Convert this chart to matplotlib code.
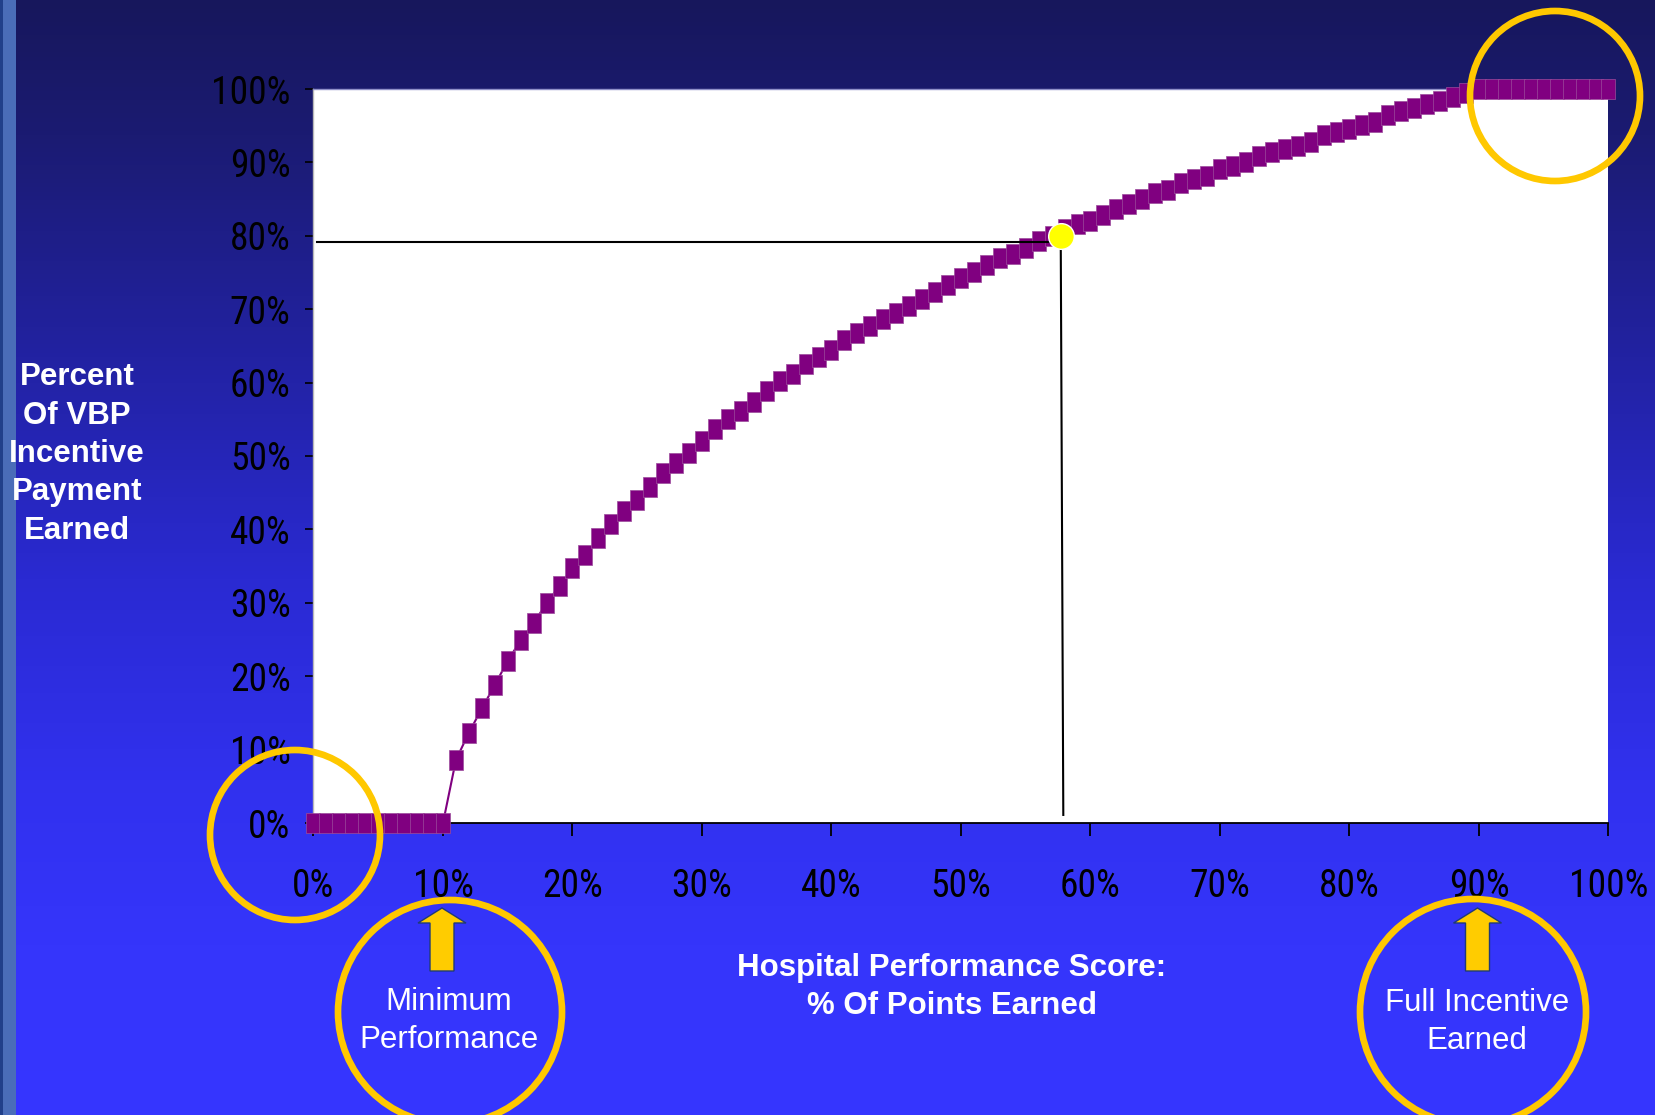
import matplotlib
matplotlib.use("Agg")
import matplotlib.pyplot as plt
import numpy as np
from matplotlib.colors import LinearSegmentedColormap
from matplotlib.patches import Ellipse, Polygon, Rectangle

# Hospital performance score (% of points earned) vs % of VBP incentive earned.
score = list(range(0, 101))
payment = [
    0, 0, 0, 0, 0, 0, 0, 0, 0, 0,
    0, 8.6, 12.3, 15.6, 18.8, 22.1, 24.9, 27.2, 30.0, 32.3,
    34.7, 36.5, 38.8, 40.7, 42.5, 44.0, 45.8, 47.7, 49.1, 50.4,
    52.0, 53.7, 55.1, 56.1, 57.4, 58.8, 60.2, 61.2, 62.5, 63.5,
    64.4, 65.8, 66.8, 67.7, 68.6, 69.5, 70.4, 71.4, 72.3, 73.3,
    74.2, 75.1, 76.0, 77.0, 77.5, 78.4, 79.3, 80.0, 80.9, 81.6,
    82.0, 82.9, 83.6, 84.4, 85.0, 85.8, 86.3, 87.2, 87.7, 88.1,
    89.1, 89.5, 90.0, 90.9, 91.4, 91.8, 92.3, 92.8, 93.7, 94.2,
    94.6, 95.1, 95.5, 96.5, 97.0, 97.4, 97.9, 98.4, 98.9, 99.5,
    100, 100, 100, 100, 100, 100, 100, 100, 100, 100,
    100,
]
tick_values = [0, 10, 20, 30, 40, 50, 60, 70, 80, 90, 100]
tick_labels = ["0%", "10%", "20%", "30%", "40%", "50%", "60%", "70%", "80%", "90%", "100%"]

# highlighted example hospital and its guide lines
marked_score, marked_payment = 57.7, 80.0
guide_level, guide_end = 79.1, 57.0
guide_foot_score, guide_foot = 57.9, 1.1

W, H = 1656, 1115


def fx(px):
    return px / W


def fy(py):
    return 1 - py / H


fig = plt.figure(figsize=(W / 100, H / 100), dpi=100)

# slide background: vertical navy -> bright blue gradient
bg = fig.add_axes([0, 0, 1, 1])
bg_cmap = LinearSegmentedColormap.from_list("slide", [
    (0.0, "#17175c"), (0.12, "#1b1b72"), (0.32, "#2222a2"),
    (0.52, "#2a2ad2"), (0.7, "#3131ee"), (0.85, "#3535fb"), (1.0, "#3535ff")])
bg.imshow(np.linspace(0, 1, 256).reshape(-1, 1), cmap=bg_cmap, aspect="auto",
          extent=[0, 1, 0, 1])
bg.set_axis_off()
fig.add_artist(Rectangle((0, 0), fx(16), 1, transform=fig.transFigure,
                         facecolor="#4a6db8", edgecolor="none", zorder=1))
fig.add_artist(Rectangle((0, 0), fx(3), 1, transform=fig.transFigure,
                         facecolor="#21408a", edgecolor="none", zorder=1))

ax = fig.add_axes([fx(313.5), fy(823), fx(1608.5 - 313.5), (823 - 89) / H])
ax.set_zorder(2)
ax.set_facecolor("white")

rect = [(-6.5, -9.5), (6.5, -9.5), (6.5, 9.5), (-6.5, 9.5), (-6.5, -9.5)]
ax.plot(score, payment, color="#800080", lw=1.5, marker=rect, ms=13.7,
        mfc="#800080", mec="#9c4c9c", mew=0.5, clip_on=False, zorder=3)

ax.plot([0.3, guide_end], [guide_level, guide_level], color="black", lw=1.5, zorder=4)
ax.plot([marked_score, guide_foot_score], [marked_payment, guide_foot],
        color="black", lw=1.5, zorder=4)
ax.plot([marked_score], [marked_payment], "o", color="#ffff00", ms=18.5,
        mec="white", mew=1.0, zorder=5, clip_on=False)

ax.set_xlim(0, 100)
ax.set_ylim(0, 100)
narrow = ["Liberation Sans Narrow", "Roboto Condensed", "DejaVu Sans Condensed",
          "Liberation Sans"]
ax.set_xticks(tick_values)
ax.set_xticklabels(tick_labels, family=narrow, fontsize=27, color="black")
ax.set_yticks(tick_values)
ax.set_yticklabels(tick_labels, family=narrow, fontsize=27, color="black")
ax.tick_params(axis="x", direction="out", length=9.4, width=1.3, color="black", pad=23)
ax.tick_params(axis="y", direction="out", length=5.5, width=1.2, color="black", pad=11)

ax.spines["bottom"].set_color("black")
ax.spines["bottom"].set_linewidth(1.3)
ax.spines["left"].set_color("#b8b8b8")
ax.spines["left"].set_linewidth(1.0)
ax.spines["top"].set_color("#9090c8")
ax.spines["top"].set_linewidth(1.0)
ax.spines["right"].set_visible(False)

# axis titles
title_font = dict(family=["Liberation Sans", "DejaVu Sans"], fontsize=22.5,
                  fontweight="bold", color="white", linespacing=1.36,
                  ha="center", va="center", multialignment="center")
fig.text(fx(77), fy(454), "Percent\nOf VBP\nIncentive\nPayment\nEarned", **title_font)
fig.text(fx(952), fy(987), "Hospital Performance Score:\n% Of Points Earned", **title_font)

# yellow call-out circles
gold = "#ffc800"
for cx, cy, r in [(295, 835, 85), (450, 1012, 112), (1555, 96, 85), (1473, 1012, 113)]:
    fig.add_artist(Ellipse((fx(cx), fy(cy)), 2 * r / W, 2 * r / H,
                           transform=fig.transFigure, fill=False,
                           edgecolor=gold, lw=4.8, zorder=6))

# block arrows pointing at the thresholds
for tip_x in [442, 1477.5]:
    tip_y, head_y, bottom_y = 908, 923, 971
    pts = [(tip_x, tip_y), (tip_x + 24, head_y), (tip_x + 12, head_y),
           (tip_x + 12, bottom_y), (tip_x - 12, bottom_y), (tip_x - 12, head_y),
           (tip_x - 24, head_y)]
    fig.add_artist(Polygon([(fx(x), fy(y)) for x, y in pts], closed=True,
                           transform=fig.transFigure, facecolor="#ffcc00",
                           edgecolor="#1f3a7a", lw=1.0, zorder=6))

note_font = dict(family=["Liberation Sans", "DejaVu Sans"], fontsize=22.5,
                 color="white", linespacing=1.32, ha="center", va="center",
                 multialignment="center")
fig.text(fx(449), fy(1021), "Minimum\nPerformance", **note_font)
fig.text(fx(1477), fy(1022), "Full Incentive\nEarned", **note_font)

fig.savefig("out.png", dpi=100)
